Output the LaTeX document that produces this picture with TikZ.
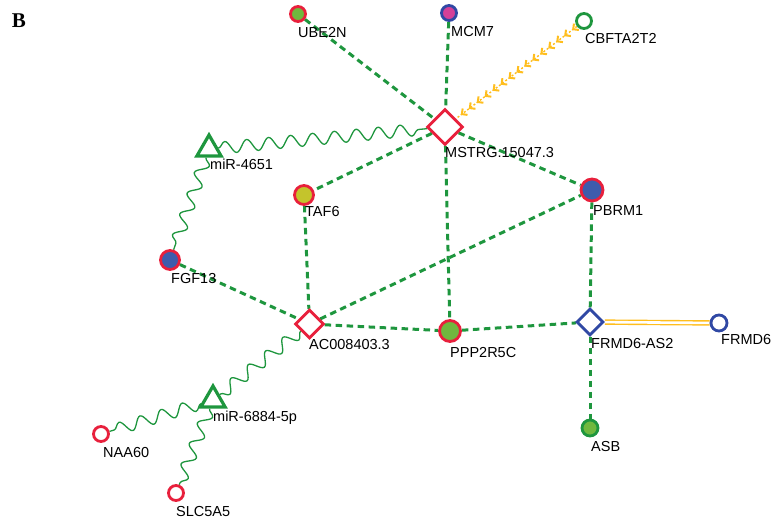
\documentclass[tikz,border=0pt]{standalone}
\usepackage{fontspec}
\setmainfont{Liberation Sans}
\newfontfamily\serifB{Liberation Serif}
\usetikzlibrary{shapes.geometric,decorations.pathmorphing,decorations.markings,arrows.meta,backgrounds}
\definecolor{nred}{RGB}{232,32,60}
\definecolor{ngreen}{RGB}{112,184,62}
\definecolor{nblue}{RGB}{62,92,172}
\definecolor{nmag}{RGB}{212,64,152}
\definecolor{nolive}{RGB}{196,196,44}
\definecolor{egreen}{RGB}{30,150,62}
\definecolor{bborder}{RGB}{48,72,164}
\definecolor{eyellow}{RGB}{255,190,30}
\tikzset{
  gnode/.style={circle,line width=2.8pt,inner sep=0pt,minimum size=#1},
  gnode/.default=14pt,
  dia/.style={diamond,line width=2.8pt,inner sep=0pt,minimum size=#1},
  tri/.style={regular polygon,regular polygon sides=3,draw=egreen,line width=3.2pt,inner sep=0pt,minimum size=28pt},
  lab/.style={anchor=north west,inner sep=0pt,font=\fontsize{14.5}{16}\selectfont},
  gdash/.style={draw=egreen,line width=3pt,dash pattern=on 6.5pt off 4.5pt},
  wavy/.style={draw=egreen,line width=1.3pt,decorate,decoration={snake,amplitude=6pt,segment length=22pt}},
  yarr/.style={draw=eyellow,line width=1.4pt,dash pattern=on 2pt off 2pt,
    postaction={decorate,decoration={markings,mark=between positions 0.04 and 0.97 step 10pt with {\arrow[eyellow]{Straight Barb[length=4pt,width=8pt,line width=2pt]}}}}},
  ydouble/.style={draw=eyellow,line width=1.4pt,double=white,double distance=2.6pt},
}
\begin{document}
\begin{tikzpicture}[x=1pt,y=-1pt]
\useasboundingbox (0,0) rectangle (772,528);
\node[font=\serifB\bfseries\fontsize{21}{22}\selectfont,inner sep=0pt] (B) at (19,21) {B};
% nodes
\node[gnode=15pt,draw=nred,fill=ngreen] (ube) at (298,14) {};
\node[gnode=15pt,draw=bborder,fill=nmag] (mcm) at (449,13) {};
\node[gnode=15pt,draw=egreen,fill=white] (cbf) at (584,21) {};
\node[dia=36pt,draw=nred,fill=white] (mst) at (445,127) {};
\node[tri] (m46) at (209,149) {};
\node[gnode=19pt,draw=nred,fill=nolive] (taf) at (304,195) {};
\node[gnode=22pt,draw=nred,fill=nblue] (pbr) at (592,190) {};
\node[gnode=19pt,draw=nred,fill=nblue] (fgf) at (170,260) {};
\node[dia=29pt,draw=nred,fill=white] (ac) at (309.5,324) {};
\node[gnode=21pt,draw=nred,fill=ngreen] (ppp) at (450,331) {};
\node[dia=27pt,draw=bborder,fill=white] (frs) at (590,322) {};
\node[gnode=16pt,draw=bborder,fill=white] (frm) at (719,323) {};
\node[gnode=16pt,draw=egreen,fill=ngreen] (asb) at (590,428) {};
\node[tri] (m68) at (213,400) {};
\node[gnode=15pt,draw=nred,fill=white] (naa) at (101,434) {};
\node[gnode=15pt,draw=nred,fill=white] (slc) at (176,493) {};
% labels
\node[lab] (lube) at (298,27) {UBE2N};
\node[lab] (lmcm) at (451,26) {MCM7};
\node[lab] (lcbf) at (585,33) {CBFTA2T2};
\node[lab] (lmst) at (445,147) {MSTRG.15047.3};
\node[lab] (lm46) at (210,159) {miR-4651};
\node[lab] (ltaf) at (305,206) {TAF6};
\node[lab] (lpbr) at (593,205) {PBRM1};
\node[lab] (lfgf) at (171,273) {FGF13};
\node[lab] (lac) at (309,339) {AC008403.3};
\node[lab] (lppp) at (450,347) {PPP2R5C};
\node[lab] (lfrs) at (591,338) {FRMD6-AS2};
\node[lab] (lfrm) at (721,334) {FRMD6};
\node[lab] (lasb) at (591,441) {ASB};
\node[lab] (lm68) at (213,411) {miR-6884-5p};
\node[lab] (lnaa) at (103,447) {NAA60};
\node[lab] (lslc) at (176,506) {SLC5A5};
% edges
\begin{scope}[on background layer]
\draw[gdash] (ube) -- (mst);
\draw[gdash] (mcm) -- (mst);
\draw[gdash] (mst) -- (taf);
\draw[gdash] (mst) -- (pbr);
\draw[gdash] (mst) -- (ppp);
\draw[gdash] (taf) -- (ac);
\draw[gdash] (fgf) -- (ac);
\draw[gdash] (ac) -- (pbr);
\draw[gdash] (ac) -- (ppp);
\draw[gdash] (ppp) -- (frs);
\draw[gdash] (pbr) -- (frs);
\draw[gdash] (frs) -- (asb);
\draw[yarr] (cbf) -- (mst);
\draw[ydouble] (frs) -- (frm);
\draw[wavy] (m46) -- (mst);
\draw[wavy] (m46) -- (fgf);
\draw[wavy] (ac) -- (m68);
\draw[wavy] (m68) -- (naa);
\draw[wavy] (m68) -- (slc);
\end{scope}
\end{tikzpicture}
\end{document}
